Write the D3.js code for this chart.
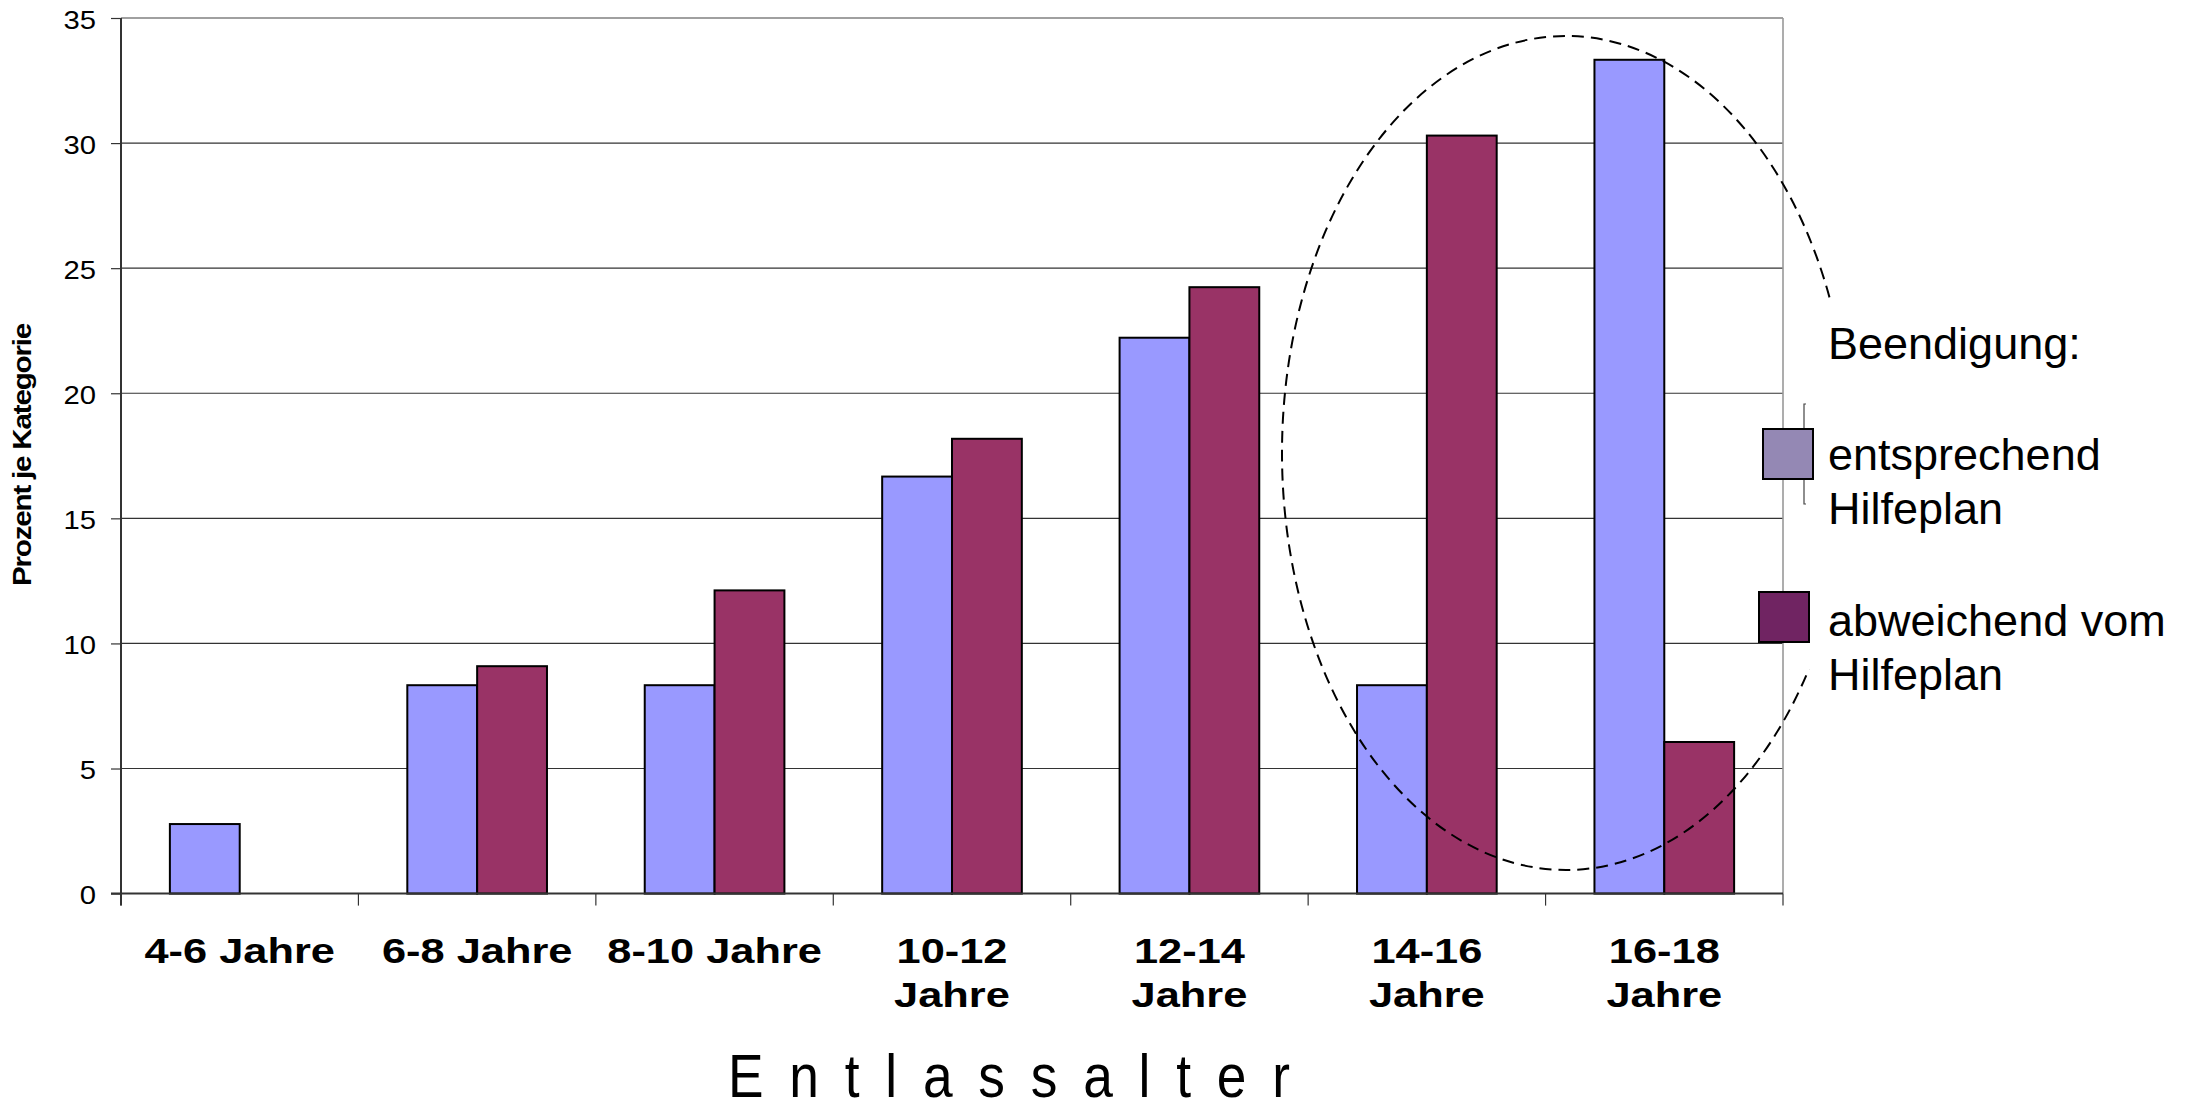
<!DOCTYPE html>
<html>
<head>
<meta charset="utf-8">
<script src="https://cdn.jsdelivr.net/npm/d3@7"></script>
<style>
  html, body { margin: 0; padding: 0; background: #fff; }
  svg { display: block; font-family: "Liberation Sans", Arial, sans-serif; }
</style>
</head>
<body>
<svg id="chart" width="2186" height="1112"></svg>
<script>
// Age groups at discharge and the two ways a placement ended (percent per group)
const categories = ["4-6 Jahre", "6-8 Jahre", "8-10 Jahre", "10-12 Jahre", "12-14 Jahre", "14-16 Jahre", "16-18 Jahre"];
const categoryLines = [["4-6 Jahre"], ["6-8 Jahre"], ["8-10 Jahre"], ["10-12", "Jahre"], ["12-14", "Jahre"], ["14-16", "Jahre"], ["16-18", "Jahre"]];
const seriesNames = ["entsprechend Hilfeplan", "abweichend vom Hilfeplan"];
const valuesPlan = [2.78, 8.33, 8.33, 16.67, 22.22, 8.33, 33.33];
const valuesAbw = [0, 9.09, 12.12, 18.18, 24.24, 30.30, 6.06];
const yTicks = [0, 5, 10, 15, 20, 25, 30, 35];
const legendTitle = "Beendigung:";
const legendLines = [["entsprechend", "Hilfeplan"], ["abweichend vom", "Hilfeplan"]];
const xTitle = "Entlassalter";
const yTitle = "Prozent je Kategorie";

const barColors = ["#9999ff", "#993366"];
const legendColors = ["#9488b4", "#702462"];

const svg = d3.select("#chart");
const plot = { left: 121, right: 1783, top: 18, bottom: 893.6 };

const x0 = d3.scaleBand().domain(categories).range([plot.left, plot.right]).padding(0);
const x1 = d3.scaleBand().domain(seriesNames).range([0, x0.bandwidth()]).paddingInner(0).paddingOuter(0.7);
const y = d3.scaleLinear().domain([0, 35]).range([plot.bottom, plot.top]);

const rows = categories.map((c, i) => ({ cat: c, vals: [valuesPlan[i], valuesAbw[i]] }));

// horizontal gridlines
svg.append("g").selectAll("line").data(yTicks.filter(t => t > 0 && t < 35)).join("line")
  .attr("x1", plot.left).attr("x2", plot.right)
  .attr("y1", d => y(d)).attr("y2", d => y(d))
  .attr("stroke", "#333").attr("stroke-width", 1.2);

// plot frame: top and right in grey
svg.append("line").attr("x1", plot.left).attr("x2", plot.right)
  .attr("y1", y(35)).attr("y2", y(35)).attr("stroke", "#808080").attr("stroke-width", 1.6);
svg.append("line").attr("x1", plot.right).attr("x2", plot.right)
  .attr("y1", y(35)).attr("y2", plot.bottom).attr("stroke", "#999").attr("stroke-width", 1.6);

// bars
const groups = svg.append("g").selectAll("g").data(rows).join("g")
  .attr("transform", d => `translate(${x0(d.cat)},0)`);
groups.selectAll("rect")
  .data(d => d.vals.map((v, k) => ({ key: seriesNames[k], v, k })).filter(e => e.v > 0))
  .join("rect")
  .attr("x", e => x1(e.key))
  .attr("width", x1.bandwidth())
  .attr("y", e => y(e.v))
  .attr("height", e => y(0) - y(e.v))
  .attr("fill", e => barColors[e.k])
  .attr("stroke", "#000").attr("stroke-width", 2);

// y axis
const yAxis = svg.append("g").attr("transform", `translate(${plot.left},0)`)
  .call(d3.axisLeft(y).tickValues(yTicks).tickSize(10).tickSizeOuter(0).tickFormat(d3.format("d")));
yAxis.select(".domain").attr("stroke", "#333").attr("stroke-width", 2)
  .attr("d", `M0,${plot.top}V${plot.bottom + 12}`);
yAxis.selectAll(".tick line").attr("stroke", "#333").attr("stroke-width", 1.2);
yAxis.selectAll(".tick text")
  .attr("x", 0).attr("dy", "0.36em")
  .attr("transform", "translate(-25,1) scale(1.17,1)")
  .attr("fill", "#000")
  .style("font-size", "25px")
  .style("font-family", "'Liberation Sans', Arial, sans-serif");

// x axis: line and category boundary ticks
svg.append("line").attr("x1", plot.left - 10).attr("x2", plot.right)
  .attr("y1", plot.bottom).attr("y2", plot.bottom).attr("stroke", "#333").attr("stroke-width", 2);
const bounds = categories.map(c => x0(c)).concat([plot.right]);
svg.append("g").selectAll("line").data(bounds).join("line")
  .attr("x1", d => d).attr("x2", d => d)
  .attr("y1", plot.bottom).attr("y2", plot.bottom + 12)
  .attr("stroke", "#333").attr("stroke-width", 1.2);

// category labels
const catLabels = svg.append("g").selectAll("text").data(categories).join("text")
  .attr("transform", d => `translate(${x0(d) + x0.bandwidth() / 2},962.5) scale(1.24,1)`)
  .attr("text-anchor", "middle")
  .style("font-size", "35px").style("font-weight", "bold").attr("fill", "#000");
catLabels.each(function (d, i) {
  d3.select(this).selectAll("tspan").data(categoryLines[i]).join("tspan")
    .attr("x", 0).attr("dy", (t, j) => j === 0 ? 0 : 44.5).text(t => t);
});

// x title
svg.append("g").attr("transform", "translate(728,1097) scale(0.86,1)")
  .append("text").attr("x", 0).attr("y", 0)
  .attr("textLength", 562 / 0.86).attr("lengthAdjust", "spacing")
  .style("font-size", "62px").attr("fill", "#000").text(xTitle);

// y title
svg.append("text")
  .attr("transform", "translate(31,455) rotate(-90)")
  .attr("text-anchor", "middle")
  .attr("textLength", 262).attr("lengthAdjust", "spacingAndGlyphs")
  .style("font-size", "25px").style("font-weight", "bold").style("letter-spacing", "-1px")
  .attr("fill", "#000").text(yTitle);

// dashed ellipse highlighting the two oldest groups
svg.append("ellipse")
  .attr("cx", 1566).attr("cy", 453).attr("rx", 284).attr("ry", 417)
  .attr("fill", "none").attr("stroke", "#000").attr("stroke-width", 2)
  .attr("stroke-dasharray", "12,7");

// legend panel (covers the ellipse where it runs under the legend text)
svg.append("rect").attr("x", 1792).attr("y", 304).attr("width", 394).attr("height", 365).attr("fill", "#fff");
svg.append("text").attr("x", 1828).attr("y", 359)
  .style("font-size", "45px").attr("fill", "#000").text(legendTitle);

// small bracket behind the first swatch
svg.append("path").attr("d", "M1806,404H1804V504H1806")
  .attr("fill", "none").attr("stroke", "#444").attr("stroke-width", 1.2);

const swatchY = [429, 592];
const swatchX = [1763, 1759];
const textY = [470, 636];
legendLines.forEach((lines, k) => {
  svg.append("rect").attr("x", swatchX[k]).attr("y", swatchY[k]).attr("width", 50).attr("height", 50)
    .attr("fill", legendColors[k]).attr("stroke", "#000").attr("stroke-width", 2);
  const t = svg.append("text").attr("x", 1828).attr("y", textY[k])
    .style("font-size", "45px").attr("fill", "#000");
  t.selectAll("tspan").data(lines).join("tspan")
    .attr("x", 1828).attr("dy", (s, j) => j === 0 ? 0 : 54).text(s => s);
});
</script>
</body>
</html>
